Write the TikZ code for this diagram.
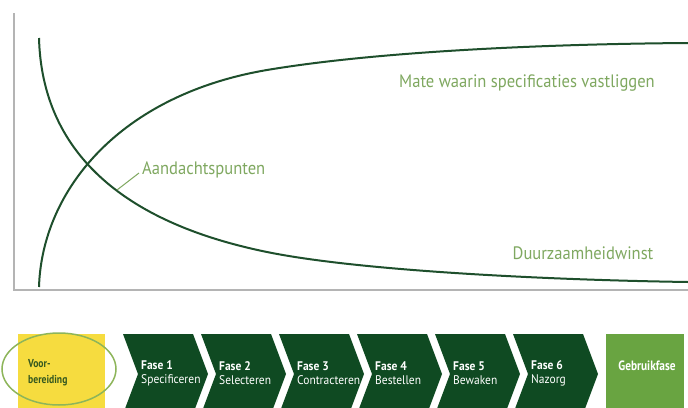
\documentclass[tikz,border=0pt]{standalone}
\usepackage{fontspec}
\setmainfont{PT Sans}
\newfontfamily\narrowsans[FakeStretch=0.84]{PT Sans}
\newfontfamily\labelsans[FakeStretch=0.92]{PT Sans}

\definecolor{curvegreen}{HTML}{1E4F2C}
\definecolor{labelgreen}{HTML}{7FA860}
\definecolor{phasegreen}{HTML}{0F4A22}
\definecolor{usegreen}{HTML}{69A441}
\definecolor{prepyellow}{HTML}{F6DC3F}
\definecolor{framegray}{HTML}{B4B4B4}
\definecolor{prepring}{HTML}{8DB55A}
\definecolor{preptext}{HTML}{35581F}

\tikzset{
  axisline/.style={draw=framegray, line width=1.5pt},
  trend/.style={draw=curvegreen, line width=2pt},
  trendlabel/.style={text=labelgreen, font=\labelsans\fontsize{18}{21}\selectfont, inner sep=0pt},
  leader/.style={draw=labelgreen, line width=1pt},
  phasetext/.style={text=white, font=\labelsans\fontsize{12.5}{14}\selectfont, align=left, anchor=west, inner sep=0pt},
}

\begin{document}
\begin{tikzpicture}[x=1pt,y=-1pt]
  \clip (0,0) rectangle (688,407);
  \fill[white] (0,0) rectangle (688,407);

  % chart frame: left and bottom edges
  \draw[axisline] (14,13) -- (14,290) -- (688,290);

  % decreasing curve
  \draw[trend] (39,38) .. controls (42,150) and (120,222) .. (267,252)
                       .. controls (360,271) and (550,280) .. (688,282);
  % increasing curve
  \draw[trend] (39,287) .. controls (42,190) and (120,95) .. (267,70)
                        .. controls (380,51) and (550,44) .. (688,43);

  \coordinate (crossmark) at (117,190);
  \node[trendlabel, anchor=west] (focus) at (142,170) {Aandachtspunten};
  \draw[leader] (crossmark) -- ([xshift=-3pt,yshift=-3pt]focus.west);

  \node[trendlabel] (spec) at (527,83) {Mate waarin specificaties vastliggen};
  \node[trendlabel] (gain) at (583,253) {Duurzaamheidwinst};

  % preparation box with its ring
  \fill[prepyellow] (18,334) rectangle (105,414);
  \node[anchor=west, align=left, inner sep=0pt, text=preptext,
        font=\narrowsans\bfseries\fontsize{11.5}{16}\selectfont] (prep) at (28,373) {Voor-\\bereiding};
  \draw[prepring, line width=1.5pt] (59,369) ellipse [x radius=57, y radius=36];

  % the six phase chevrons
  \foreach \k/\num/\name in {0/1/Specificeren, 1/2/Selecteren, 2/3/Contracteren,
                             3/4/Bestellen, 4/5/Bewaken, 5/6/Nazorg} {
    \pgfmathsetmacro{\xa}{123+78*\k}
    \fill[phasegreen] (\xa,334) -- ++(70,0) -- ++(15,40) -- ++(-15,40)
                      -- ++(-70,0) -- ++(15,-40) -- cycle;
    \node[phasetext] (phase\num) at (\xa+18,373) {\textbf{Fase \num}\\\name};
  }

  % use phase
  \fill[usegreen] (606,334) rectangle (684,414);
  \node[text=white, inner sep=0pt, font=\narrowsans\bfseries\fontsize{13.5}{16}\selectfont] (use) at (647,366) {Gebruikfase};
\end{tikzpicture}
\end{document}
